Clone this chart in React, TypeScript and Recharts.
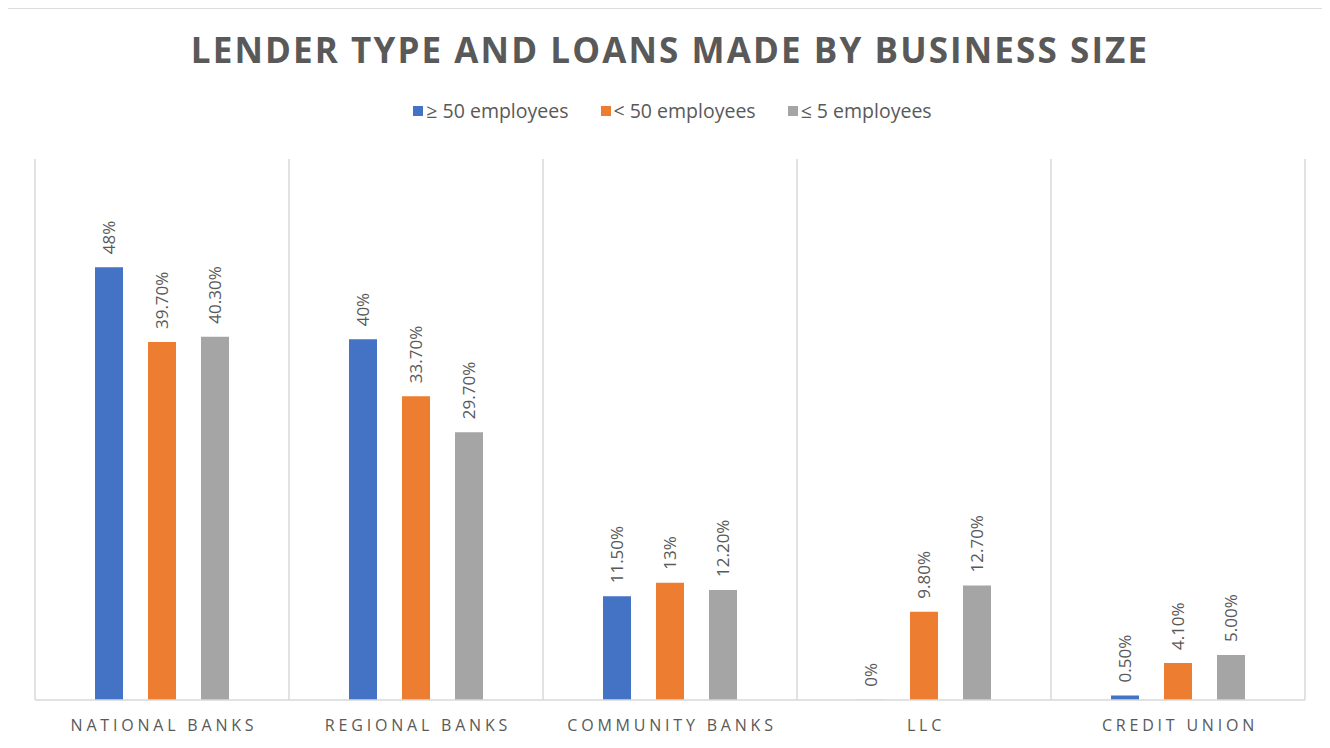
import { Bar, BarChart, CartesianGrid, LabelList, Legend, XAxis, YAxis } from "recharts";

const categories = ["NATIONAL BANKS", "REGIONAL BANKS", "COMMUNITY BANKS", "LLC", "CREDIT UNION"];

const large = [48, 40, 11.5, 0, 0.5];
const small = [39.7, 33.7, 13, 9.8, 4.1];
const micro = [40.3, 29.7, 12.2, 12.7, 5.0];

const largeLabels = ["48%", "40%", "11.50%", "0%", "0.50%"];
const smallLabels = ["39.70%", "33.70%", "13%", "9.80%", "4.10%"];
const microLabels = ["40.30%", "29.70%", "12.20%", "12.70%", "5.00%"];

const seriesNames = ["≥ 50 employees", "< 50 employees", "≤ 5 employees"];
const seriesColors = ["#4472c4", "#ed7d31", "#a5a5a5"];

const TEXT = "#595959";
const GRID = "#d9d9d9";

const rows = categories.map((name, i) => ({
  name,
  large: large[i],
  small: small[i],
  micro: micro[i],
  largeLabel: largeLabels[i],
  smallLabel: smallLabels[i],
  microLabel: microLabels[i],
}));

function RotatedLabel(props: any) {
  const { x, y, width, value } = props;
  const cx = Number(x) + Number(width) / 2;
  const ty = Number(y) - 13;
  return (
    <text
      x={cx}
      y={ty}
      transform={`rotate(-90 ${cx} ${ty})`}
      textAnchor="start"
      dominantBaseline="central"
      fill={TEXT}
      fontSize={17}
      fontFamily="Open Sans"
    >
      {value}
    </text>
  );
}

function CategoryTick(props: any) {
  const { x, y, payload } = props;
  return (
    <text
      x={x + 2}
      y={y + 23}
      textAnchor="middle"
      fill={TEXT}
      fontSize={16}
      fontFamily="Open Sans"
      style={{ letterSpacing: "3.8px" }}
    >
      {payload.value}
    </text>
  );
}

function LegendContent() {
  return (
    <div style={{ display: "flex", justifyContent: "center", gap: 32 }}>
      {seriesNames.map((name, i) => (
        <div key={name} style={{ display: "flex", alignItems: "center" }}>
          <span
            style={{
              display: "inline-block",
              width: 10,
              height: 10,
              background: seriesColors[i],
              marginRight: 3,
            }}
          />
          <span style={{ color: TEXT, fontSize: 19.5, fontFamily: "Open Sans" }}>{name}</span>
        </div>
      ))}
    </div>
  );
}

export default function App() {
  return (
    <div
      style={{
        position: "relative",
        width: 1330,
        height: 748,
        margin: -8,
        overflow: "hidden",
        background: "#fff",
        fontFamily: "Open Sans",
      }}
    >
      <div
        style={{
          position: "absolute",
          left: 5,
          top: 7,
          width: 1360,
          height: 780,
          border: "2px solid #dcdcdc",
        }}
      />
      <div
        style={{
          position: "absolute",
          left: 0,
          top: 27,
          width: 1340,
          textAlign: "center",
          fontSize: 35,
          fontWeight: 700,
          color: TEXT,
          letterSpacing: "2.1px",
          lineHeight: "46px",
        }}
      >
        LENDER TYPE AND LOANS MADE BY BUSINESS SIZE
      </div>
      <div style={{ position: "absolute", left: 0, top: 0 }}>
        <BarChart
          width={1330}
          height={748}
          data={rows}
          margin={{ top: 159, right: 25, bottom: 18, left: 35 }}
          barSize={28}
          barGap={25}
        >
          <CartesianGrid
            horizontal={false}
            stroke={GRID}
            strokeWidth={1.5}
            verticalCoordinatesGenerator={({ offset }: any) =>
              Array.from(
                { length: categories.length + 1 },
                (_, i) => offset.left + (i * offset.width) / categories.length
              )
            }
          />
          <XAxis
            dataKey="name"
            height={30}
            axisLine={{ stroke: GRID, strokeWidth: 1.5 }}
            tickLine={false}
            tick={<CategoryTick />}
            interval={0}
          />
          <YAxis hide domain={[0, 60]} />
          <Legend
            verticalAlign="middle"
            align="center"
            layout="horizontal"
            content={<LegendContent />}
            wrapperStyle={{ top: 97, left: 0, width: 1345 }}
          />
          <Bar dataKey="large" name={seriesNames[0]} fill={seriesColors[0]} minPointSize={0.2} isAnimationActive={false}>
            <LabelList dataKey="largeLabel" content={<RotatedLabel />} />
          </Bar>
          <Bar dataKey="small" name={seriesNames[1]} fill={seriesColors[1]} isAnimationActive={false}>
            <LabelList dataKey="smallLabel" content={<RotatedLabel />} />
          </Bar>
          <Bar dataKey="micro" name={seriesNames[2]} fill={seriesColors[2]} isAnimationActive={false}>
            <LabelList dataKey="microLabel" content={<RotatedLabel />} />
          </Bar>
        </BarChart>
      </div>
    </div>
  );
}
